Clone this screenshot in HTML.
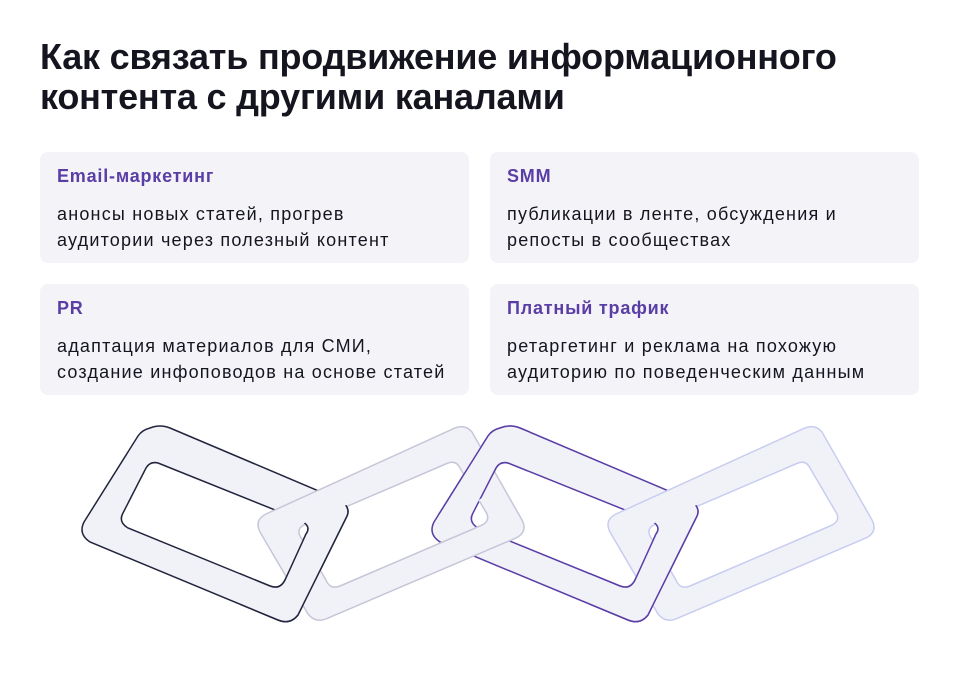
<!DOCTYPE html>
<html><head><meta charset="utf-8"><style>
body{margin:0;width:960px;height:676px;background:#fff;font-family:"Liberation Sans",sans-serif;position:relative;overflow:hidden;color:#15151f}
h1{position:absolute;left:40px;top:37px;margin:0;font-size:36px;line-height:40px;font-weight:700;letter-spacing:-0.2px}
.c{position:absolute;width:429px;height:111px;background:#f3f3f8;border-radius:8px}
.t{position:absolute;left:17px;top:14px;font-size:18px;font-weight:700;color:#5a3ea6;letter-spacing:0.8px}
.b{position:absolute;left:17px;top:49px;font-size:18px;line-height:26px;letter-spacing:1.2px;white-space:nowrap}
svg{position:absolute;left:0;top:0}
</style></head><body>
<h1>Как связать продвижение информационного<br>контента с другими каналами</h1>
<div class="c" style="left:40px;top:152px"><div class="t">Email-маркетинг</div><div class="b">анонсы новых статей, прогрев<br>аудитории через полезный контент</div></div>
<div class="c" style="left:490px;top:152px"><div class="t">SMM</div><div class="b">публикации в ленте, обсуждения и<br>репосты в сообществах</div></div>
<div class="c" style="left:40px;top:284px"><div class="t">PR</div><div class="b">адаптация материалов для СМИ,<br>создание инфоповодов на основе статей</div></div>
<div class="c" style="left:490px;top:284px"><div class="t">Платный трафик</div><div class="b">ретаргетинг и реклама на похожую<br>аудиторию по поведенческим данным</div></div>
<svg width="960" height="676" viewBox="0 0 960 676">
<defs>
<path id="A" fill-rule="evenodd" d="M150 428 Q160 424 170 428 L340 500 Q352 508 346 518 L298 615 Q290 625 278 620 L90 542 Q78 534 84 522 L138 436 Q142 430 150 428 Z M158 463 L300 520 Q312 526 306 534 L285 580 Q280 590 270 586 L128 528 Q118 522 123 513 L146 468 Q150 461 158 463 Z"/>
<path id="B" fill-rule="evenodd" d="M455 428 Q465 424 472 432 L522 520 Q528 532 516 538 L328 618 Q316 624 308 614 L260 532 Q254 520 266 514 Z M448 463 Q456 460 460 468 L487 514 Q490 522 480 526 L340 586 Q330 590 326 580 L300 536 Q296 528 306 524 Z"/>
<clipPath id="k1"><polygon points="240,550 302,524 365,497 365,640 240,640"/></clipPath>
<clipPath id="k3"><polygon points="420,420 530,420 530,470 470,505 420,520"/></clipPath>
<clipPath id="k5"><polygon points="590,550 652,524 715,497 715,640 590,640"/></clipPath>
</defs>
<use href="#A" fill="#f1f2f8" stroke="#22253d" stroke-width="1.5"/>
<use href="#A" transform="translate(350,0)" fill="#f1f2f8" stroke="#5a3ea6" stroke-width="1.5"/>
<use href="#B" fill="#f1f2f8" stroke="#c6c6d8" stroke-width="1.5"/>
<g clip-path="url(#k1)"><use href="#A" fill="#f1f2f8" stroke="#22253d" stroke-width="1.5"/></g>
<g clip-path="url(#k3)"><use href="#A" transform="translate(350,0)" fill="#f1f2f8" stroke="#5a3ea6" stroke-width="1.5"/></g>
<use href="#B" transform="translate(350,0)" fill="#f1f2f8" stroke="#c8cdf0" stroke-width="1.5"/>
<g clip-path="url(#k5)"><use href="#A" transform="translate(350,0)" fill="#f1f2f8" stroke="#5a3ea6" stroke-width="1.5"/></g>
</svg>
</body></html>
